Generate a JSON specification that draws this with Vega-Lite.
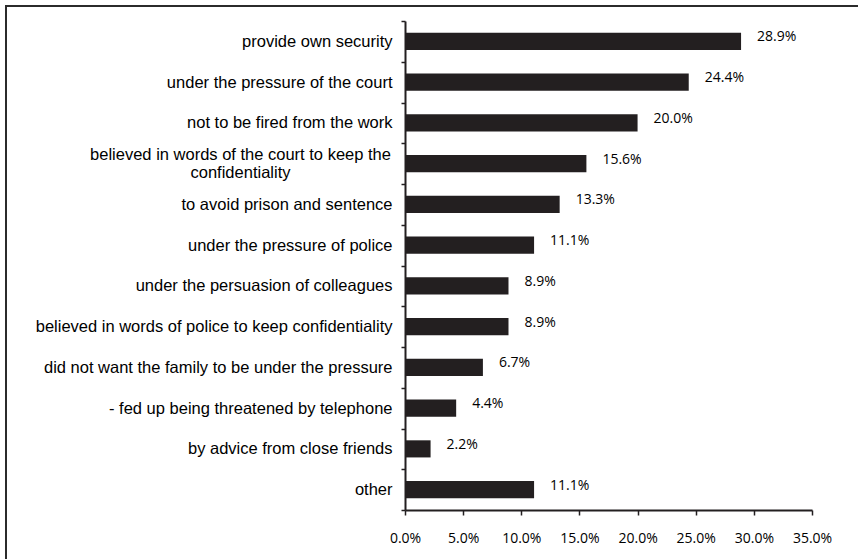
{
  "$schema": "https://vega.github.io/schema/vega-lite/v6.json",
  "width": 900,
  "height": 600,
  "autosize": {"type": "none"},
  "padding": {"left": 6, "top": 6, "right": 0, "bottom": 0},
  "background": "white",
  "config": {"view": {"stroke": "#2b2b2b", "strokeWidth": 2}},
  "data": {
    "values": [
      {"reason": "provide own security", "pct": 0.289},
      {"reason": "under the pressure of the court", "pct": 0.244},
      {"reason": "not to be fired from the work", "pct": 0.200},
      {"reason": "believed in words of the court to keep the confidentiality", "pct": 0.156},
      {"reason": "to avoid prison and sentence", "pct": 0.133},
      {"reason": "under the pressure of police", "pct": 0.111},
      {"reason": "under the persuasion of colleagues", "pct": 0.089},
      {"reason": "believed in words of police to keep confidentiality", "pct": 0.089},
      {"reason": "did not want the family to be under the pressure", "pct": 0.067},
      {"reason": "- fed up being threatened by telephone", "pct": 0.044},
      {"reason": "by advice from close friends", "pct": 0.022},
      {"reason": "other", "pct": 0.111}
    ]
  },
  "encoding": {
    "y": {
      "field": "reason",
      "type": "nominal",
      "sort": null,
      "scale": {"range": [15, 504], "paddingInner": 0, "paddingOuter": 0},
      "axis": {
        "title": null,
        "orient": "left",
        "offset": -399,
        "tickBand": "extent",
        "tickSize": 4,
        "tickColor": "#231f20",
        "tickWidth": 1.5,
        "domainColor": "#231f20",
        "domainWidth": 2,
        "labelFont": "Liberation Sans",
        "labelFontSize": 16.5,
        "labelColor": "#000000",
        "labelLimit": 420,
        "labelLineHeight": 18,
        "labelAlign": {"condition": {"test": "datum.value == 'believed in words of the court to keep the confidentiality'", "value": "center"}, "value": "right"},
        "labelPadding": {"condition": {"test": "datum.value == 'believed in words of the court to keep the confidentiality'", "value": 161}, "value": 9},
        "labelOffset": {"condition": {"test": "datum.value == 'believed in words of the court to keep the confidentiality'", "value": -9}, "value": 0},
        "labelExpr": "datum.value == 'believed in words of the court to keep the confidentiality' ? ['believed in words of the court to keep the', 'confidentiality'] : datum.label"
      }
    },
    "x": {
      "field": "pct",
      "type": "quantitative",
      "scale": {"domain": [0, 0.35], "range": [399, 806], "nice": false, "zero": false},
      "axis": {
        "title": null,
        "values": [0, 0.05, 0.1, 0.15, 0.2, 0.25, 0.3, 0.35],
        "format": ".1%",
        "offset": -96,
        "grid": false,
        "labelOverlap": false,
        "labelFlush": false,
        "tickSize": 5,
        "tickColor": "#231f20",
        "tickWidth": 1.5,
        "domainColor": "#231f20",
        "domainWidth": 2,
        "labelFont": "Open Sans",
        "labelFontSize": 14,
        "labelColor": "#000000",
        "labelPadding": 16
      }
    }
  },
  "layer": [
    {
      "mark": {"type": "bar", "color": "#231f20", "height": {"band": 0.42}}
    },
    {
      "mark": {"type": "text", "align": "left", "baseline": "middle", "dx": 16, "dy": -4, "font": "Open Sans", "fontSize": 14, "color": "#000000"},
      "encoding": {"text": {"field": "pct", "type": "quantitative", "format": ".1%"}}
    }
  ]
}
